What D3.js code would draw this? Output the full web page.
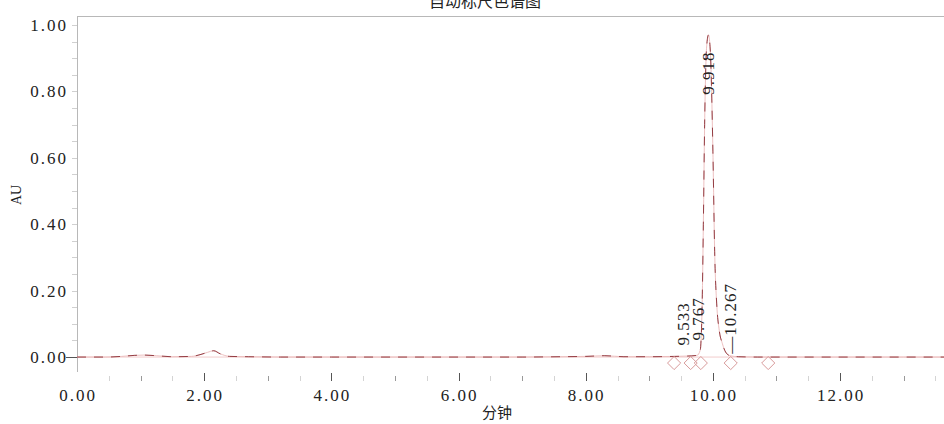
<!DOCTYPE html>
<html>
  <head>
    <meta charset="utf-8">
    <title>自动标尺色谱图</title>
    <script src="https://d3js.org/d3.v7.min.js"></script>
    <style>
      body { margin: 0; background: #fff; }
      text { font-family: "Liberation Serif", "DejaVu Serif", "Noto Sans CJK SC", serif; fill: #222; }
      .cjk { font-family: "Noto Sans CJK SC", sans-serif; }
    </style>
  </head>
  <body>
    <svg id="chart" width="944" height="424"></svg>
    <script>
      // trace: time (min) vs absorbance (AU)
      var times = [0, 0.45, 0.7, 0.9, 1.05, 1.25, 1.5, 1.8, 1.95, 2.05, 2.15, 2.25, 2.4, 2.7, 3.2, 4, 5, 6, 7, 7.6,
        8.0, 8.3, 8.6, 9.0, 9.4, 9.6, 9.75, 9.8, 9.83, 9.85, 9.87, 9.9, 9.93, 9.96, 9.98, 10.0,
        10.03, 10.06, 10.1, 10.15, 10.2, 10.27, 10.4, 10.7, 11.2, 12, 13, 13.65];
      var values = [0, 0, 0.002, 0.005, 0.006, 0.004, 0.001, 0.002, 0.008, 0.014, 0.019, 0.01, 0.002, 0.001, 0, 0, 0, 0, 0, 0.001,
        0.002, 0.004, 0.001, 0.001, 0.002, 0.003, 0.005, 0.02, 0.15, 0.4, 0.7, 0.93, 0.97, 0.92, 0.8, 0.62,
        0.3, 0.16, 0.08, 0.04, 0.015, 0.004, 0.001, 0, 0, 0, 0, 0];

      // peak labels (retention times)
      var peakLabels = [9.533, 9.767, 9.918, 10.267];
      var peakLabelY = [0.035, 0.05, 0.79, 0.01];
      // integration markers
      var markerTimes = [9.39, 9.65, 9.81, 10.28, 10.87];

      var yTicks = [0, 0.2, 0.4, 0.6, 0.8, 1.0];
      var xTicks = [0, 2, 4, 6, 8, 10, 12];

      var svg = d3.select("#chart");
      var x = d3.scaleLinear().domain([0, 13.65]).range([77, 945]);
      var y = d3.scaleLinear().domain([-0.045, 1.027]).range([372, 16]);
      var fmt = d3.format(".2f");

      // title (cut at the top, as in the original export)
      svg.append("text")
        .attr("class", "cjk")
        .attr("x", 485).attr("y", 7)
        .attr("text-anchor", "middle")
        .style("font-size", "16px")
        .text("自动标尺色谱图");

      // frame
      svg.append("line").attr("x1", 77).attr("x2", 944).attr("y1", 16.5).attr("y2", 16.5)
        .attr("stroke", "#b8b8b8");
      svg.append("line").attr("x1", 77.5).attr("x2", 77.5).attr("y1", 16).attr("y2", 372)
        .attr("stroke", "#b8b8b8");

      // y axis ticks
      var yMinor = d3.range(-0.05, 1.03, 0.05).filter(function(v) { return v > -0.046; });
      svg.append("g").selectAll("line").data(yMinor).join("line")
        .attr("x1", 72).attr("x2", 77)
        .attr("y1", function(d) { return Math.round(y(d)) + 0.5; })
        .attr("y2", function(d) { return Math.round(y(d)) + 0.5; })
        .attr("stroke", "#d0d0d0");
      svg.append("line").attr("x1", 66).attr("x2", 77)
        .attr("y1", Math.round(y(0)) + 0.5).attr("y2", Math.round(y(0)) + 0.5)
        .attr("stroke", "#555");
      svg.append("g").selectAll("text").data(yTicks).join("text")
        .attr("x", 68)
        .attr("y", function(d) { return y(d) + 6; })
        .attr("text-anchor", "end")
        .style("font-size", "17px")
        .style("letter-spacing", "2px")
        .text(fmt);

      // x axis ticks
      var xMinor = d3.range(0.5, 13.6, 0.5);
      svg.append("g").selectAll("line").data(xMinor).join("line")
        .attr("x1", function(d) { return Math.round(x(d)) + 0.5; })
        .attr("x2", function(d) { return Math.round(x(d)) + 0.5; })
        .attr("y1", function(d) { return d % 2 === 0 ? 373 : 376; })
        .attr("y2", 381)
        .attr("stroke", function(d) { return d % 2 === 0 ? "#555" : (d % 1 === 0 ? "#999" : "#d4d4d4"); });
      svg.append("g").selectAll("text").data(xTicks).join("text")
        .attr("x", function(d) { return x(d) + 1; })
        .attr("y", 401)
        .attr("text-anchor", "middle")
        .style("font-size", "17px")
        .style("letter-spacing", "2px")
        .text(fmt);

      // axis titles
      svg.append("text")
        .attr("transform", "translate(21,195) rotate(-90)")
        .attr("text-anchor", "middle")
        .style("font-size", "14px")
        .text("AU");
      svg.append("text")
        .attr("class", "cjk")
        .attr("x", 497).attr("y", 418)
        .attr("text-anchor", "middle")
        .style("font-size", "15px")
        .text("分钟");

      // baseline
      svg.append("line")
        .attr("x1", x(0)).attr("x2", x(13.65))
        .attr("y1", y(0)).attr("y2", y(0))
        .attr("stroke", "#f2cccc").attr("stroke-width", 1);

      // trace
      var pts = times.map(function(t, i) { return [t, values[i]]; });
      var line = d3.line()
        .x(function(d) { return x(d[0]); })
        .y(function(d) { return y(d[1]); })
        .curve(d3.curveMonotoneX);
      svg.append("path").datum(pts)
        .attr("d", line)
        .attr("fill", "none")
        .attr("stroke", "#eab8b8").attr("stroke-width", 0.9);
      svg.append("path").datum(pts)
        .attr("d", line)
        .attr("fill", "none")
        .attr("stroke", "#8a2f35").attr("stroke-width", 0.9)
        .attr("stroke-dasharray", "9,8");

      // integration markers
      var diamond = d3.symbol().type(d3.symbolDiamond2).size(110);
      svg.append("g").selectAll("path").data(markerTimes).join("path")
        .attr("transform", function(d) { return "translate(" + x(d) + "," + y(-0.018) + ")"; })
        .attr("d", diamond)
        .attr("fill", "none")
        .attr("stroke", "#d89a9a");

      // peak labels
      svg.append("g").selectAll("text").data(peakLabels).join("text")
        .attr("transform", function(d, i) {
          return "translate(" + (x(d) + 6) + "," + y(peakLabelY[i]) + ") rotate(-90)";
        })
        .style("font-size", "17px")
        .style("letter-spacing", "1px")
        .text(function(d) { return (d === 10.267 ? "—" : "") + d3.format(".3f")(d); });
    </script>
  </body>
</html>
